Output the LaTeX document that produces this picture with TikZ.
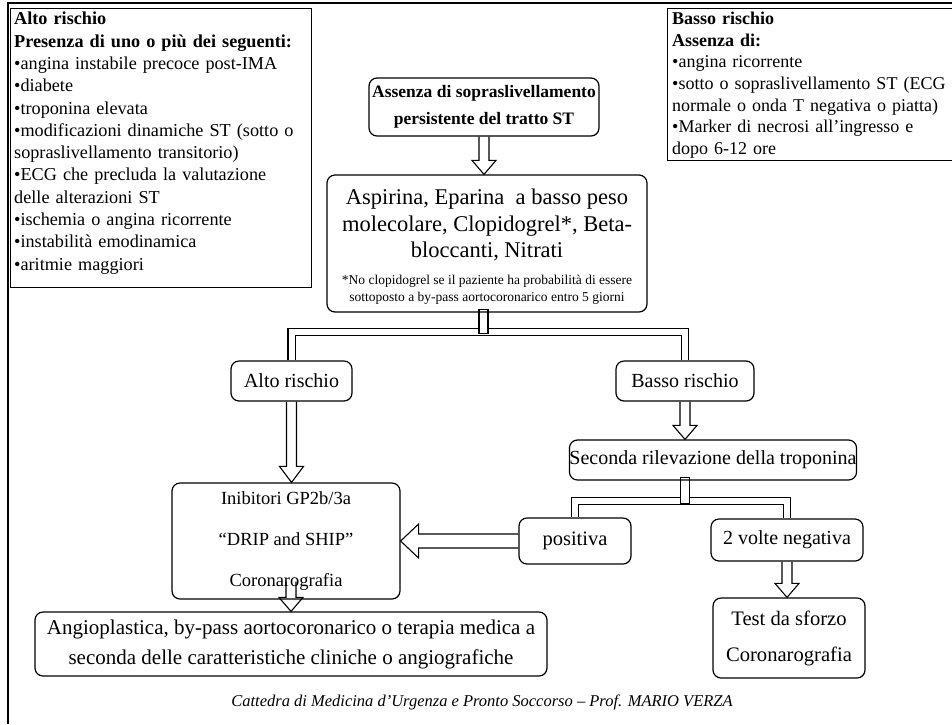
\documentclass[tikz,border=0pt]{standalone}
\usepackage{fontspec}
\setmainfont{Liberation Serif}
\usetikzlibrary{calc}
\pgfdeclarelayer{back}
\pgfsetlayers{back,main}
\tikzset{
  box/.style={draw, rounded corners=8pt, line width=1.2pt, align=center, inner sep=0pt},
  infobox/.style={draw, line width=1.2pt, inner sep=0pt, anchor=north west},
  pipe/.style={line width=1.1pt, double=white, double distance=6pt},
  stub/.style={draw, line width=1.1pt, fill=white},
  hol/.style={draw, line width=1.1pt, fill=white, line join=miter},
  frame/.style={line width=2.6pt},
  big/.style={font=\fontsize{20}{26}\selectfont},
}
% hollow block arrow: start, end, half shaft width, half head width, head length
\newcommand\hollowarrow[5]{%
  \path (#1) coordinate (ha-s) (#2) coordinate (ha-e);
  \coordinate (ha-b) at ($(ha-e)!#5!(ha-s)$);
  \draw[hol] ($(ha-s)!#3!90:(ha-e)$) -- ($(ha-b)!#3!-90:(ha-s)$)
    -- ($(ha-b)!#4!-90:(ha-s)$) -- (ha-e) -- ($(ha-b)!#4!90:(ha-s)$)
    -- ($(ha-b)!#3!90:(ha-s)$) -- ($(ha-s)!#3!-90:(ha-e)$);
}
\begin{document}
\begin{tikzpicture}[x=1pt,y=-1pt]
\useasboundingbox (0,0) rectangle (952,724);

% page frame (left and top edges)
\draw[frame] (8,724) -- (8,3) -- (952,3);

% high-risk criteria
\node[infobox, minimum width=301pt, minimum height=279pt] (hr) at (10,8) {};
\node[anchor=north west, inner sep=0pt, text width=298pt, align=left,
      font=\fontsize{18.2}{22.3}\selectfont] (hrt) at ($(hr.north west)+(4,4)$)
  {\textbf{Alto rischio}\\
   \textbf{Presenza di uno o più dei seguenti:}\\
   •angina instabile precoce post-IMA\\
   •diabete\\
   •troponina elevata\\
   •modificazioni dinamiche ST (sotto o\\
   sopraslivellamento transitorio)\\
   •ECG che precluda la valutazione\\
   delle alterazioni ST\\
   •ischemia o angina ricorrente\\
   •instabilità emodinamica\\
   •aritmie maggiori};

% low-risk criteria
\node[infobox, minimum width=300pt, minimum height=152pt] (lr) at (667,8) {};
\node[anchor=north west, inner sep=0pt, text width=285pt, align=left,
      font=\fontsize{18}{21.6}\selectfont] (lrt) at ($(lr.north west)+(5,4)$)
  {\textbf{Basso rischio}\\
   \textbf{Assenza di:}\\
   •angina ricorrente\\
   •sotto o sopraslivellamento ST (ECG\\
   normale o onda T negativa o piatta)\\
   •Marker di necrosi all'ingresso e\\
   dopo 6-12 ore};

% flow boxes
\node[box, minimum width=230pt, minimum height=58pt,
      font=\bfseries\fontsize{17.5}{27}\selectfont] (st) at (484,107)
  {Assenza di sopraslivellamento\\persistente del tratto ST};

\node[box, minimum width=320pt, minimum height=137pt] (tx) at (487,243.5) {};
\node[align=center, inner sep=0pt, font=\fontsize{22.5}{26.5}\selectfont] (txa) at (487,225)
  {Aspirina, Eparina\ \ a basso peso\\
   molecolare, Clopidogrel*, Beta-\\
   bloccanti, Nitrati};
\node[align=center, inner sep=0pt, font=\fontsize{13.5}{17}\selectfont] (txb) at (487,290)
  {*No clopidogrel se il paziente ha probabilità di essere\\
   sottoposto a by-pass aortocoronarico entro 5 giorni};

\node[box, big, minimum width=121pt, minimum height=40pt] (alto) at (291.5,381) {Alto rischio};
\node[box, big, minimum width=138pt, minimum height=40pt] (basso) at (685,381) {Basso rischio};

\node[box, big, minimum width=280pt, minimum height=40pt] (sec) at (713,460)
  {Seconda rilevazione della troponina};

\node[box, font=\fontsize{20.5}{26}\selectfont, minimum width=112pt, minimum height=46pt] (pos) at (575,541) {positiva};
\node[box, big, minimum width=152pt, minimum height=42pt] (neg) at (787,540) {2 volte negativa};

\node[box, minimum width=228pt, minimum height=116pt,
      font=\fontsize{18.5}{41}\selectfont] (inib) at (286,541)
  {Inibitori GP2b/3a\\“DRIP and SHIP”\\Coronarografia};

\node[box, minimum width=512pt, minimum height=64pt,
      font=\fontsize{21}{30}\selectfont] (ang) at (291,644)
  {Angioplastica, by-pass aortocoronarico o terapia medica a\\
   seconda delle caratteristiche cliniche o angiografiche};

\node[box, minimum width=152pt, minimum height=80pt,
      font=\fontsize{20.6}{36}\selectfont] (test) at (789,638)
  {Test da sforzo\\Coronarografia};

\node[font=\itshape\fontsize{16.5}{18}\selectfont] (ft) at (482,702)
  {Cattedra di Medicina d'Urgenza e Pronto Soccorso -- Prof. MARIO VERZA};

% connectors
\begin{pgfonlayer}{back}
  \hollowarrow{st.south}{st.south |- tx.north}{5pt}{12pt}{14pt}
  \draw[pipe] (alto.north) |- ($(tx.south)+(0,19.5)$) -| (basso.north);
  \draw[stub] ($(tx.south)+(-8,-3)$) rectangle ($(tx.south)+(1,21)$);
  \hollowarrow{alto.south}{alto.south |- inib.north}{5pt}{12pt}{16pt}
  \hollowarrow{basso.south}{basso.south |- sec.north}{5pt}{12pt}{14pt}
  \draw[pipe] (pos.north) |- ($(sec.south)+(0,20.5)$) -| (neg.north);
  \draw[stub] ($(basso.south |- sec.south)+(-4.5,-3)$) rectangle ($(basso.south |- sec.south)+(4.5,23)$);
  \hollowarrow{pos.west}{inib.east |- pos.west}{7pt}{17pt}{18pt}
  \hollowarrow{$(ang.north |- inib.south)+(0,-18)$}{ang.north}{5pt}{12pt}{14pt}
  \hollowarrow{neg.south}{neg.south |- test.north}{5pt}{12pt}{14pt}
\end{pgfonlayer}
\end{tikzpicture}
\end{document}
